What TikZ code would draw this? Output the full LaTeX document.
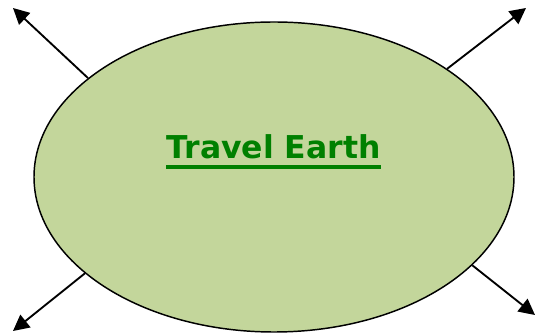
\documentclass[tikz,border=0pt]{standalone}
\usepackage{fontspec}
\setsansfont{DejaVu Sans}
\usetikzlibrary{arrows.meta,shapes.geometric}
\definecolor{EarthFill}{HTML}{C3D69B}
\definecolor{TitleGreen}{HTML}{008000}

\begin{document}
\begin{tikzpicture}[x=0.75pt,y=-0.75pt,>={Triangle[length=12pt,width=12pt]},
    outarrow/.style={->,line width=1.4pt}]
  \useasboundingbox (0,0) rectangle (536,334);
  \node[ellipse,draw,line width=1.1pt,fill=EarthFill,inner sep=0pt,
    minimum width=360pt,minimum height=232.5pt] (earth) at (274,177) {};
  \node[TitleGreen,inner sep=0pt,anchor=base,
    font=\sffamily\bfseries\fontsize{23.6}{28}\selectfont] (title) at (273.5,159) {Travel Earth};
  \draw[TitleGreen,line width=2.4pt] ([yshift=-6pt]title.base west) -- ([yshift=-6pt]title.base east);
  % arrows out to the corners
  \coordinate (tl) at (13,8);
  \coordinate (tr) at (526,8);
  \coordinate (bl) at (13,331);
  \coordinate (br) at (535,315);
  \draw[outarrow] (earth.152) -- (tl);
  \draw[outarrow] (earth.32) -- (tr);
  \draw[outarrow] (earth.207) -- (bl);
  \draw[outarrow] (earth.336) -- (br);
\end{tikzpicture}
\end{document}
